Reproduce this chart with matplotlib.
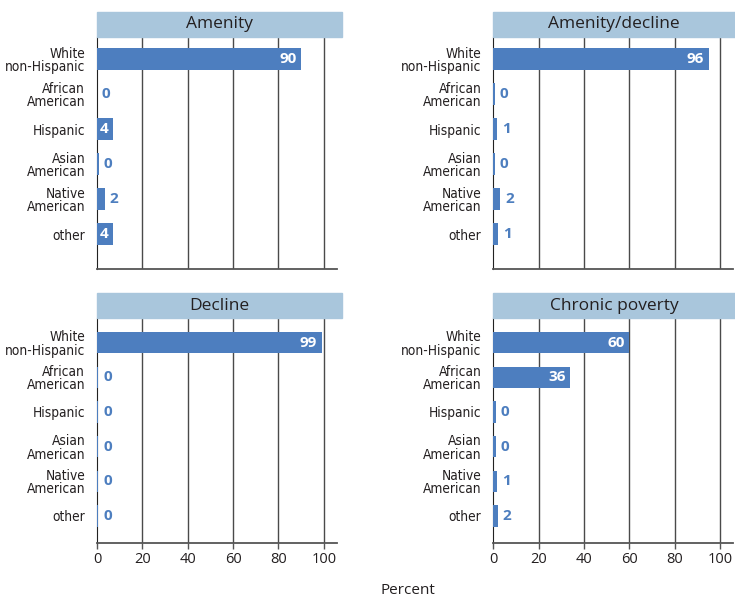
import matplotlib
matplotlib.use('Agg')
import matplotlib.pyplot as plt
from matplotlib import font_manager as fm
from matplotlib.patches import Rectangle
import numpy as np

# --- data ---
categories = ['White\nnon-Hispanic', 'African\nAmerican', 'Hispanic',
              'Asian\nAmerican', 'Native\nAmerican', 'other']
panel_titles = ['Amenity', 'Amenity/decline', 'Decline', 'Chronic poverty']
# bar lengths as drawn in the picture (percent)
amenity = [90, 0, 7, 0.8, 3.5, 7]
amenity_decline = [95, 0.6, 1.6, 0.6, 3, 2]
decline = [99, 0.6, 0.6, 0.6, 0.6, 0.6]
chronic_poverty = [60, 34, 1.2, 1.2, 1.7, 2]
# printed value labels
amenity_lbl = ['90', '0', '4', '0', '2', '4']
amenity_decline_lbl = ['96', '0', '1', '0', '2', '1']
decline_lbl = ['99', '0', '0', '0', '0', '0']
chronic_poverty_lbl = ['60', '36', '0', '0', '1', '2']
x_ticks = [0, 20, 40, 60, 80, 100]

BAR = '#4d7ebf'
HEAD = '#a9c6dc'
TXT = '#231f20'
W, H = 735, 597

# condensed font for the category labels, if one is around
fonts = fm.fontManager.ttflist
names = {f.name for f in fonts}
lab_fp = fm.FontProperties(family=['Roboto', 'DejaVu Sans'], size=9)
if 'Liberation Sans Narrow' in names:
    lab_fp = fm.FontProperties(family=['Liberation Sans Narrow'], size=10.5)
else:
    for f in fonts:
        if f.name == 'DejaVu Sans' and 'Condensed' in f.fname and 'Bold' not in f.fname \
                and 'Oblique' not in f.fname:
            lab_fp = fm.FontProperties(fname=f.fname, size=9.8)
            break

plt.rcParams['font.family'] = ['Open Sans', 'DejaVu Sans']

fig = plt.figure(figsize=(W / 100, H / 100), dpi=100)


def px_axes(x0, y_top, x1, y_bot):
    return fig.add_axes([x0 / W, (H - y_bot) / H, (x1 - x0) / W, (y_bot - y_top) / H])


panels = [
    (amenity, amenity_lbl, (97, 37, 336.5, 269), False, (-0.63, 1.0)),
    (amenity_decline, amenity_decline_lbl, (493.3, 37, 732.7, 269), False, (-0.63, 1.0)),
    (decline, decline_lbl, (97, 318, 336.5, 542.7), True, (-0.71, 0.77)),
    (chronic_poverty, chronic_poverty_lbl, (493.3, 318, 732.7, 542.7), True, (-0.71, 0.77)),
]

for (vals, lbls, box, show_ticks, pads), title in zip(panels, panel_titles):
    x0, yt, x1, yb = box
    ax = px_axes(x0, yt, x1, yb)
    y = np.arange(len(categories))
    ax.barh(y, vals, height=0.61, color=BAR, zorder=3)
    ax.set_xlim(0, 105.6)
    ax.set_ylim(len(categories) - 1 + pads[1], pads[0])

    for gx in x_ticks[1:]:
        ax.axvline(gx, color='#4a4a4a', lw=1.0, zorder=1)

    ax.set_yticks(y)
    ax.set_yticklabels(categories, color=TXT, fontproperties=lab_fp, linespacing=0.95)
    ax.tick_params(axis='y', length=0, pad=8.5)

    ax.set_xticks(x_ticks)
    if show_ticks:
        ax.tick_params(axis='x', length=4, width=1, color='#555555', labelsize=10.5,
                       labelcolor=TXT, pad=3)
    else:
        ax.tick_params(axis='x', length=0, labelbottom=False)

    for s in ['top', 'right']:
        ax.spines[s].set_visible(False)
    ax.spines['left'].set_color('#222222')
    ax.spines['bottom'].set_color('#555555')
    ax.spines['bottom'].set_linewidth(1.3)

    for yi, v, t in zip(y, vals, lbls):
        if v >= 5:
            ax.annotate(t, (v, yi), xytext=(-3.5, 0), textcoords='offset points',
                        ha='right', va='center', color='white', fontsize=11,
                        fontweight='bold', zorder=4)
        else:
            ax.annotate(t, (v, yi), xytext=(3.5, 0), textcoords='offset points',
                        ha='left', va='center', color=BAR, fontsize=11,
                        fontweight='bold', zorder=4)

    # header band
    hx1 = min(x1 + 5.5, W)
    fig.patches.append(Rectangle((x0 / W, (H - yt) / H), (hx1 - x0) / W, 25 / H,
                                 transform=fig.transFigure, color=HEAD, zorder=0))
    fig.text((x0 + hx1) / 2 / W, (H - yt + 12.5) / H, title, ha='center', va='center',
             fontsize=12.5, color=TXT)

fig.text(408 / W, (H - 590) / H, 'Percent', ha='center', va='center', fontsize=11, color=TXT)

fig.savefig('out.png', dpi=100)
